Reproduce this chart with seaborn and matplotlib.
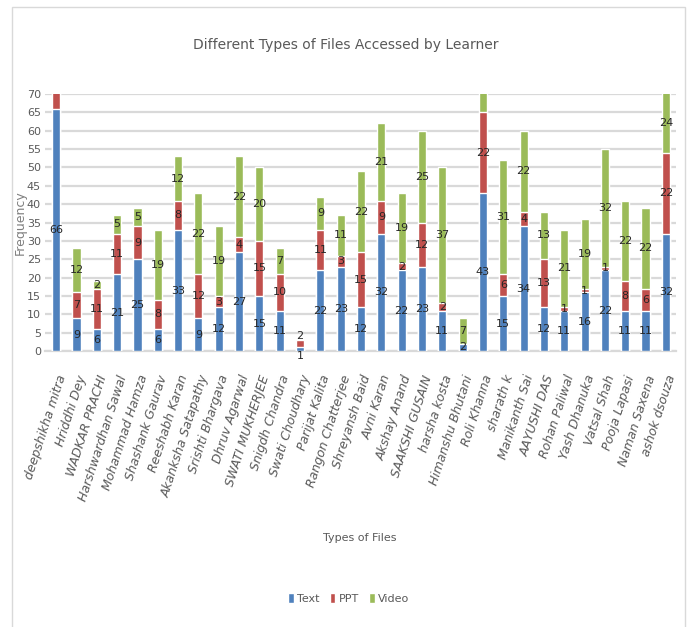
import seaborn as sns
import pandas as pd
import matplotlib.pyplot as plt
from matplotlib.patches import Patch, Rectangle

names = ["deepshikha mitra", "Hriddhi Dey", "WADKAR PRACHI", "Harshwardhan Sawal",
         "Mohammad Hamza", "Shashank Gaurav", "Reeshabh Karan", "Akanksha Satapathy",
         "Srishti Bhargava", "Dhruv Agarwal", "SWATI MUKHERJEE", "Snigdh Chandra",
         "Swati Choudhary", "Parijat Kalita", "Rangon Chatterjee", "Shreyansh Baid",
         "Avni Karan", "Akshay Anand", "SAAKSHI GUSAIN", "harsha kosta",
         "Himanshu Bhutani", "Roli Khanna", "sharath k", "Manikanth Sai",
         "AAYUSHI DAS", "Rohan Paliwal", "Yash Dhanuka", "Vatsal Shah",
         "Pooja Lapasi", "Naman Saxena", "ashok dsouza"]
text = [66, 9, 6, 21, 25, 6, 33, 9, 12, 27, 15, 11, 1, 22, 23, 12,
        32, 22, 23, 11, 2, 43, 15, 34, 12, 11, 16, 22, 11, 11, 32]
ppt = [6, 7, 11, 11, 9, 8, 8, 12, 3, 4, 15, 10, 2, 11, 3, 15,
       9, 2, 12, 2, 0, 22, 6, 4, 13, 1, 1, 1, 8, 6, 22]
video = [0, 12, 2, 5, 5, 19, 12, 22, 19, 22, 20, 7, 0, 9, 11, 22,
         21, 19, 25, 37, 7, 8, 31, 22, 13, 21, 19, 32, 22, 22, 24]

colors = {"Text": "#4F81BD", "PPT": "#C0504D", "Video": "#9BBB59"}
ymax = 70

df = pd.DataFrame({"name": names, "Text": text, "PPT": ppt, "Video": video})
df["tp"] = df["Text"] + df["PPT"]
df["total"] = df["tp"] + df["Video"]

sns.set_theme(style="white")
plt.rcParams["font.family"] = ["Liberation Sans Narrow", "DejaVu Sans"]

fig = plt.figure(figsize=(6.88, 6.27), dpi=100)
ax = fig.add_axes([0.0654, 0.440, 0.9172, 0.410])

# stacked bars drawn as cumulative totals, back to front
for col, c in [("total", colors["Video"]), ("tp", colors["PPT"]), ("Text", colors["Text"])]:
    sns.barplot(data=df, x="name", y=col, color=c, width=0.4, saturation=1,
                ax=ax, zorder=3)

# data labels in the middle of each segment
for i, row in df.iterrows():
    base = 0
    for col in ["Text", "PPT", "Video"]:
        v = row[col]
        top = base + v
        vis_top = min(top, ymax)
        if v > 0 and (top <= ymax or vis_top - base >= 10):
            y = (base + vis_top) / 2
            if row["total"] < 5:
                # tiny bar: spread the labels above and below
                y = -1.2 if col == "Text" else top + 1.2
            ax.text(i, y, str(v), ha="center", va="center",
                    fontsize=8, color="#262626", zorder=4, clip_on=False)
        base = top

ax.set_ylim(0, ymax)
ax.set_xlim(-0.55, 30.5)
ax.set_yticks(range(0, 71, 5))
ax.yaxis.grid(True, color="#D9D9D9", linewidth=1.6, zorder=0)
ax.set_axisbelow(True)
for s in ["top", "right", "left"]:
    ax.spines[s].set_visible(False)
ax.spines["bottom"].set_color("#D9D9D9")
ax.spines["bottom"].set_linewidth(1.6)
ax.tick_params(axis="y", length=0, labelsize=8, labelcolor="#595959", pad=3)
ax.tick_params(axis="x", length=0, pad=16)
ax.set_xticks(range(len(names)))
ax.set_xticklabels(names, rotation=72, ha="right", va="top", fontsize=9,
                   style="italic", color="#595959", rotation_mode="anchor")
ax.set_xlabel("")
ax.set_ylabel("")

fig.text(0.502, 0.928, "Different Types of Files Accessed by Learner", ha="center",
         va="center", fontsize=10, color="#595959")
fig.text(0.523, 0.142, "Types of Files", ha="center", va="center", fontsize=8,
         color="#595959")
fig.text(0.030, 0.645, "Frequency", ha="center", va="center", rotation=90,
         fontsize=9, color="#7F7F7F", family=["DejaVu Sans"])

handles = [Patch(facecolor=colors[k], label=k) for k in ["Text", "PPT", "Video"]]
fig.legend(handles=handles, loc="center", bbox_to_anchor=(0.507, 0.046), ncol=3,
           frameon=False, fontsize=8, handlelength=0.5, handleheight=1.0,
           handletextpad=0.3, columnspacing=0.9, labelcolor="#595959")

# outer chart frame
fig.add_artist(Rectangle((12 / 688, -0.01), (685 - 12) / 688, 1 - 7 / 627 + 0.01,
                         transform=fig.transFigure, fill=False,
                         edgecolor="#D9D9D9", linewidth=1))

fig.savefig("out.png", dpi=100, facecolor="white")
